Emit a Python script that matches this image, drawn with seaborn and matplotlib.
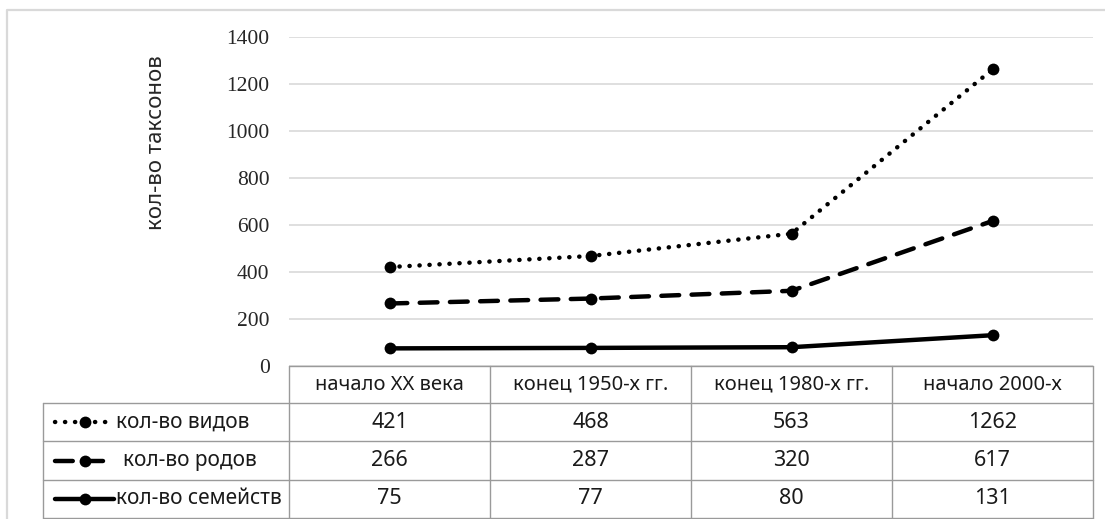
import numpy as np
import pandas as pd
import seaborn as sns
import matplotlib.pyplot as plt

# data
periods = ["начало XX века", "конец 1950-х гг.", "конец 1980-х гг.", "начало 2000-х"]
series_names = ["кол-во видов", "кол-во родов", "кол-во семейств"]
species = [421, 468, 563, 1262]
genera = [266, 287, 320, 617]
families = [75, 77, 80, 131]
y_ticks = [0, 200, 400, 600, 800, 1000, 1200, 1400]

values = {series_names[0]: species, series_names[1]: genera, series_names[2]: families}
df = pd.DataFrame([
    {"period": i, "series": name, "value": v}
    for name, vals in values.items() for i, v in enumerate(vals)
])

sns.set_style("white")
plt.rcParams['font.family'] = ['Noto Sans', 'DejaVu Sans']

W, H = 1105, 519
fig = plt.figure(figsize=(W / 100, H / 100), dpi=100)

# layout in pixels
px_left, px_right, px_top, px_zero = 289, 1093, 37, 366
ax = fig.add_axes([px_left / W, 1 - px_zero / H, (px_right - px_left) / W, (px_zero - px_top) / H])

dashes = {series_names[0]: (0.05, 2.2), series_names[1]: (4.0, 2.8), series_names[2]: ""}
sns.lineplot(data=df, x="period", y="value", style="series", dashes=dashes,
             markers={n: "o" for n in series_names}, color="black", linewidth=3.2,
             markersize=8.5, markeredgewidth=0, dash_capstyle="round", legend=False, ax=ax)

ax.set_xlim(-0.5, len(periods) - 0.5)
ax.set_ylim(0, 1400)
ax.set_yticks(y_ticks)
ax.set_yticklabels([str(t) for t in y_ticks], family="Liberation Serif", fontsize=15.5)
ax.tick_params(axis="y", length=0, pad=14)
ax.set_xticks([])
ax.set_xlabel("")
ax.set_ylabel("")
ax.grid(axis="y", color="#d9d9d9", linewidth=1.2)
for s in ax.spines.values():
    s.set_visible(False)

fig.text(157 / W, 1 - 143 / H, "кол-во таксонов", rotation=90, ha="center", va="center", fontsize=16)

# overlay for table and frame, pixel coordinates
ov = fig.add_axes([0, 0, 1, 1], facecolor="none")
ov.set_xlim(0, W)
ov.set_ylim(H, 0)
ov.axis("off")

# outer chart frame
ov.plot([7, 7, W], [H, 10, 10], color="#d9d9d9", linewidth=1.6)

grid_c = "#9a9a9a"
col_edges = np.linspace(px_left, px_right, len(periods) + 1)
row_edges = [366, 403, 441, 480, 518]
legend_left = 43

# horizontal lines
ov.plot([px_left, px_right], [row_edges[0]] * 2, color=grid_c, lw=1)
for y in row_edges[1:]:
    ov.plot([legend_left, px_right], [y, y], color=grid_c, lw=1)
# vertical lines
for x in col_edges:
    ov.plot([x, x], [row_edges[0], row_edges[-1]], color=grid_c, lw=1)
ov.plot([legend_left, legend_left], [row_edges[1], row_edges[-1]], color=grid_c, lw=1)

centers = (col_edges[:-1] + col_edges[1:]) / 2
hdr_y = (row_edges[0] + row_edges[1]) / 2
for cx, lab in zip(centers, periods):
    ov.text(cx, hdr_y, lab, ha="center", va="center", fontsize=14.5, color="#1a1a1a")

table_vals = [species, genera, families]
for r, (name, vals) in enumerate(zip(series_names, table_vals)):
    ry = (row_edges[r + 1] + row_edges[r + 2]) / 2
    for cx, v in zip(centers, vals):
        ov.text(cx, ry, str(v), ha="center", va="center", fontsize=15.5, color="#1a1a1a")
    # legend key
    ov.plot([55, 114], [ry, ry], color="black", lw=3.2, dashes=dashes[name] if dashes[name] else (None, None),
            dash_capstyle="round")
    ov.plot([85], [ry], marker="o", color="black", markersize=8.5, markeredgewidth=0)
    ov.text(116 if r != 1 else 123, ry, name, ha="left", va="center", fontsize=15, color="#1a1a1a")

fig.savefig("out.png", dpi=100)
